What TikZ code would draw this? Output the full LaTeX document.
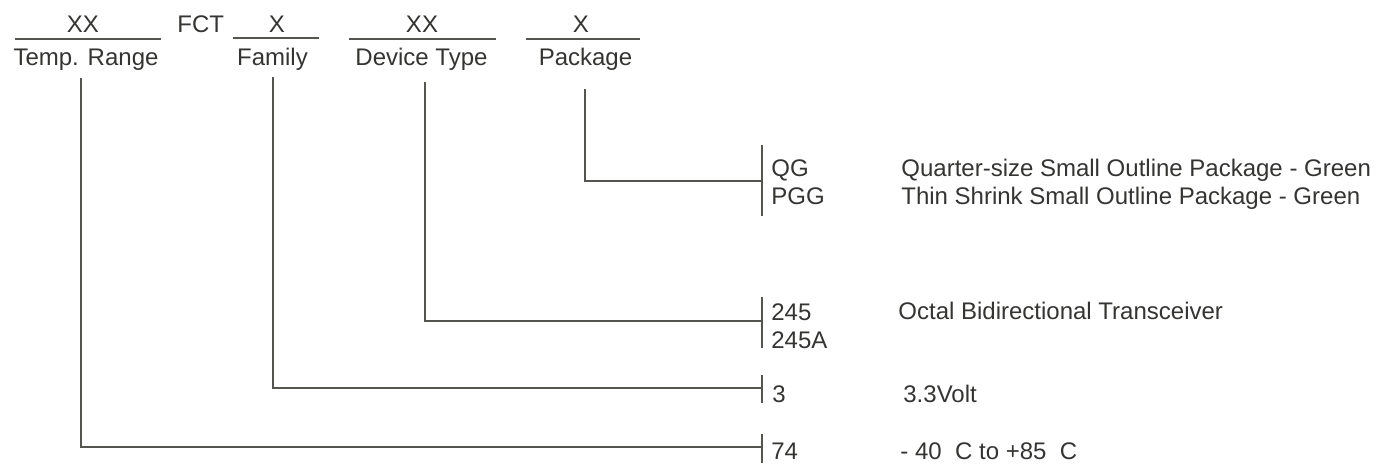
\documentclass[tikz,border=0pt]{standalone}
\usepackage{fontspec}
\setmainfont{Liberation Sans}
\definecolor{inkgray}{RGB}{52,52,50}
\definecolor{wiregray}{RGB}{84,84,80}
\tikzset{
  txt/.style={inner sep=0pt, text=inkgray, font=\fontsize{12}{14.4}\selectfont},
  wire/.style={draw=wiregray, line width=0.7pt},
}

\begin{document}
\begin{tikzpicture}[x=0.5pt,y=-0.5pt]
\useasboundingbox (0,0) rectangle (1378,463);
% Drawing header fields
\node[txt,anchor=base] (tempxx) at (83,32) {XX};
\node[txt,anchor=base west] (fct) at (177,32) {FCT};
\node[txt,anchor=base] (famx) at (277,32) {X};
\node[txt,anchor=base] (devxx) at (422,32) {XX};
\node[txt,anchor=base] (pkgx) at (581,32) {X};
\draw[wire] (15,39) -- (161,39);
\draw[wire] (233,38) -- (319,38);
\draw[wire] (349,39) -- (496,39);
\draw[wire] (526,39) -- (640,39);
\node[txt,anchor=base] (templbl) at (86,65) {Temp. Range};
\node[txt,anchor=base] (famlbl) at (272.5,65) {Family};
\node[txt,anchor=base] (devlbl) at (421.5,65) {Device Type};
\node[txt,anchor=base] (pkglbl) at (585.5,65) {Package};
% Done with header; drawing option lists
\node[txt,anchor=base west] (qg) at (771,176) {QG};
\node[txt,anchor=base west] (pgg) at (771,204) {PGG};
\node[txt,anchor=base west] (qgtxt) at (901,176) {Quarter-size Small Outline Package - Green};
\node[txt,anchor=base west] (pggtxt) at (901,204) {Thin Shrink Small Outline Package - Green};
\node[txt,anchor=base west] (d245) at (771,320) {245};
\node[txt,anchor=base west] (d245a) at (771,348) {245A};
\node[txt,anchor=base west] (d245txt) at (898,319) {Octal Bidirectional Transceiver};
\node[txt,anchor=base west] (f3) at (772,402) {3};
\node[txt,anchor=base west] (f3txt) at (903,402) {3.3Volt};
\node[txt,anchor=base west] (t74) at (771,459) {74};
\node[txt,anchor=base west] (t74txt) at (900,459) {- 40~~C to +85~~C};
% Drawing brackets
\coordinate (pkgtop) at (585,89);
\coordinate (devtop) at (425,82);
\coordinate (famtop) at (273,77);
\coordinate (temptop) at (81,78);
\coordinate (pkgbar) at (762,181);
\coordinate (devbar) at (762,321);
\coordinate (fambar) at (762,388);
\coordinate (tempbar) at (762,447);
\draw[wire] (762,145) -- (762,216);
\draw[wire] (762,297) -- (762,348);
\draw[wire] (762,375) -- (762,403);
\draw[wire] (762,434) -- (762,463);
% Drawing leads
\draw[wire] (pkgtop) |- (pkgbar);
\draw[wire] (devtop) |- (devbar);
\draw[wire] (famtop) |- (fambar);
\draw[wire] (temptop) |- (tempbar);
% Done with leads
\end{tikzpicture}
\end{document}
